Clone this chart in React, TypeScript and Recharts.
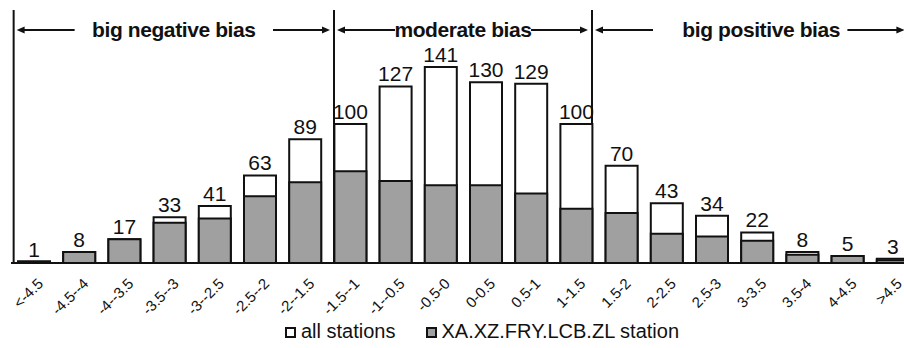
import React from "react";
import {
  BarChart,
  Bar,
  XAxis,
  YAxis,
  Legend,
  LabelList,
  ReferenceArea,
} from "recharts";

const bins = [
  "<-4.5", "-4.5--4", "-4--3.5", "-3.5--3", "-3--2.5", "-2.5--2", "-2--1.5",
  "-1.5--1", "-1--0.5", "-0.5-0", "0-0.5", "0.5-1", "1-1.5",
  "1.5-2", "2-2.5", "2.5-3", "3-3.5", "3.5-4", "4-4.5", ">4.5",
];
const allStations = [1, 8, 17, 33, 41, 63, 89, 100, 127, 141, 130, 129, 100, 70, 43, 34, 22, 8, 5, 3];
const oneStation = [1, 8, 17, 29, 32, 48, 58, 66, 59, 56, 56, 50, 39, 36, 21, 19, 16, 6, 5, 2];

const regionTitles = ["big negative bias", "moderate bias", "big positive bias"];
const regionFrom = ["<-4.5", "-1.5--1", "1.5-2"];
const regionTo = ["-2--1.5", "1-1.5", ">4.5"];

const data = bins.map((bin, i) => ({
  bin,
  all: allStations[i],
  station: oneStation[i],
}));

const FONT = "'Liberation Sans', Arial, sans-serif";
const BAR = 32;
const INK = "#111";

// hand drawn header: divider lines + "<--- title --->"
// lo / hi: where the region boundary sits, in units of the gap beside a bar
const REGION_STYLE = [
  { lo: 0.4, hi: 1, lines: [true, false], shift: 0 },
  { lo: 1, hi: -1, lines: [true, true], shift: 0 },
  { lo: -1, hi: -1, lines: [false, false], shift: 11 },
];

const RegionHeader = (props: any) => {
  const { viewBox, title, count, idx } = props;
  if (!viewBox) return null;
  const { x, y, width, height } = viewBox;
  const st = REGION_STYLE[idx];
  const gap = (width / count - BAR) / 2;
  const d0 = x + st.lo * gap;
  const d1 = x + width + st.hi * gap;
  const ay = y + 20;
  const la = d0 + 3;
  const ra = d1 - 4;
  return (
    <g>
      {st.lines[0] && <line x1={d0} x2={d0} y1={y} y2={y + height} stroke={INK} strokeWidth={2} />}
      {st.lines[1] && <line x1={d1} x2={d1} y1={y} y2={y + height} stroke={INK} strokeWidth={2} />}
      <line x1={la + 6} x2={la + 58} y1={ay} y2={ay} stroke={INK} strokeWidth={2} />
      <path d={`M${la},${ay} L${la + 8},${ay - 3.5} L${la + 8},${ay + 3.5} Z`} fill={INK} />
      <line x1={ra - 57} x2={ra - 6} y1={ay} y2={ay} stroke={INK} strokeWidth={2} />
      <path d={`M${ra},${ay} L${ra - 8},${ay - 3.5} L${ra - 8},${ay + 3.5} Z`} fill={INK} />
      <text
        x={(d0 + d1) / 2 + st.shift}
        y={y + 26.5}
        textAnchor="middle"
        fontFamily={FONT}
        fontSize={21}
        fontWeight="bold"
        letterSpacing={-0.4}
        fill={INK}
      >
        {title}
      </text>
    </g>
  );
};

const LegendRow = (props: any) => {
  const { payload } = props;
  return (
    <div style={{ display: "flex", alignItems: "center", fontFamily: FONT, fontSize: 20, color: INK, whiteSpace: "nowrap" }}>
      {(payload || []).map((entry: any, i: number) => (
        <div key={i} style={{ display: "flex", alignItems: "center", marginRight: i === 0 ? 30 : 0 }}>
          <span
            style={{
              display: "inline-block",
              width: 7,
              height: 7,
              border: `2px solid ${INK}`,
              background: entry.color,
              marginRight: 5,
              marginTop: 2,
            }}
          />
          <span>{entry.value}</span>
        </div>
      ))}
    </div>
  );
};

export default function App() {
  return (
    <div style={{ position: "fixed", left: 0, top: 0, width: 904, height: 348, overflow: "hidden", background: "#fff" }}>
      <BarChart
        width={920}
        height={348}
        data={data}
        margin={{ top: 10, right: 5, left: 11, bottom: 0 }}
        barGap={-BAR}
      >
        <XAxis
          dataKey="bin"
          interval={0}
          height={85}
          tickLine={false}
          axisLine={{ stroke: INK, strokeWidth: 2 }}
          angle={-45}
          textAnchor="end"
          dx={3}
          dy={6}
          tick={{ fontSize: 15, fill: INK, fontFamily: FONT }}
        />
        <YAxis hide domain={[0, 182]} />
        {regionTitles.map((t, i) => (
          <ReferenceArea
            key={t}
            x1={regionFrom[i]}
            x2={regionTo[i]}
            ifOverflow="visible"
            fill="none"
            fillOpacity={0}
            stroke="none"
            label={
              <RegionHeader
                title={t}
                idx={i}
                count={bins.indexOf(regionTo[i]) - bins.indexOf(regionFrom[i]) + 1}
              />
            }
          />
        ))}
        <Bar dataKey="all" name="all stations" fill="#ffffff" stroke={INK} strokeWidth={2} barSize={BAR} isAnimationActive={false}>
          <LabelList dataKey="all" position="top" fontFamily={FONT} fontSize={21} fill={INK} />
        </Bar>
        <Bar dataKey="station" name="XA.XZ.FRY.LCB.ZL station" fill="#a0a0a0" stroke={INK} strokeWidth={2} barSize={BAR} isAnimationActive={false} />
        <Legend
          verticalAlign="middle"
          align="center"
          itemSorter="dataKey"
          content={<LegendRow />}
          wrapperStyle={{ top: 320, left: 285, width: "auto", height: "auto" }}
        />
      </BarChart>
    </div>
  );
}
